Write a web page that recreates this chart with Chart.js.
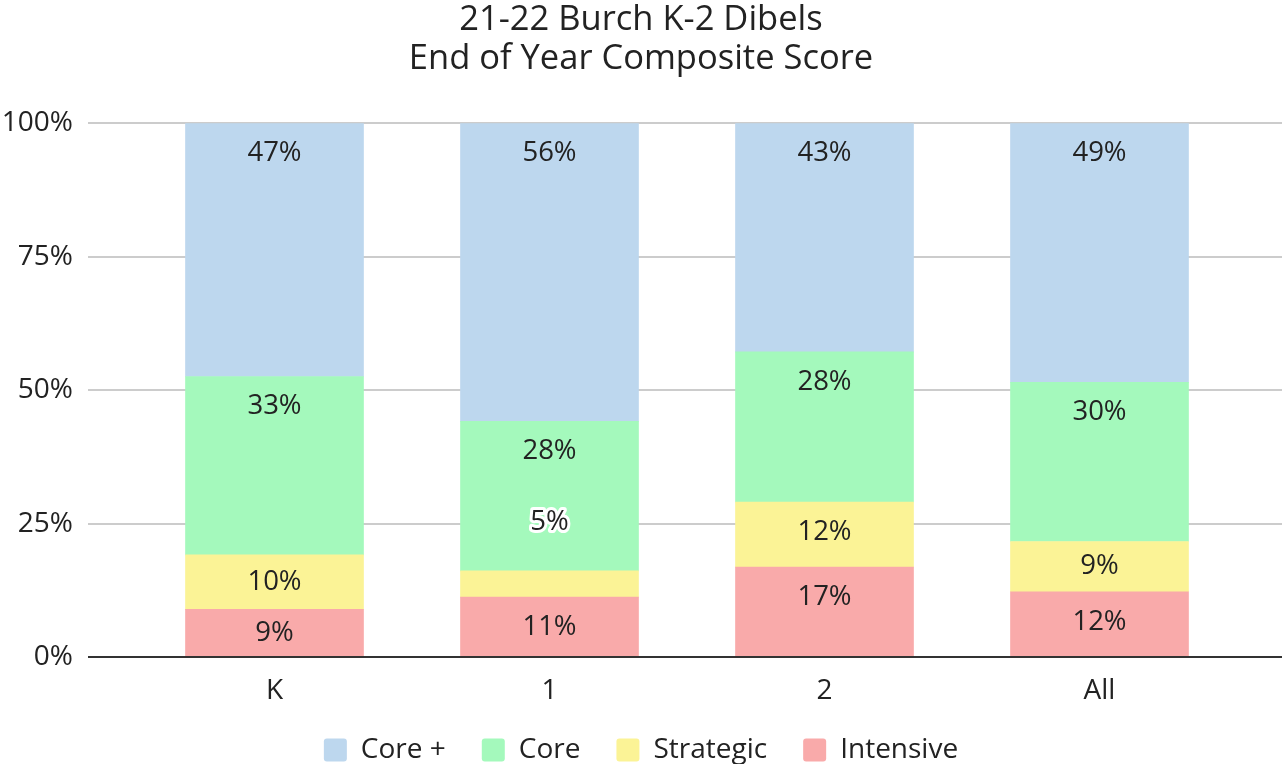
<!DOCTYPE html>
<html>
<head>
<meta charset="utf-8">
<script src="https://cdn.jsdelivr.net/npm/chart.js@4"></script>
<style>
  html, body { margin: 0; padding: 0; background: #fff; }
  #wrap { width: 1282px; height: 764px; }
</style>
</head>
<body>
<div id="wrap"><canvas id="chart"></canvas></div>
<script>
// grades on the x axis
var grades = ['K', '1', '2', 'All'];

// share of students in each band (percent)
var intensive = [9.0, 11.3, 16.9, 12.3];
var strategic = [10.2, 4.9, 12.2, 9.4];
var core = [33.4, 28.0, 28.1, 29.8];
var corePlus = [47.4, 55.8, 42.8, 48.5];

var yTicks = [0, 25, 50, 75, 100];

var FONT = "'Open Sans', 'Noto Sans', sans-serif";

// horizontal grid lines running across the whole width
var gridPlugin = {
    id: 'wideGrid',
    beforeDatasetsDraw: function(chart) {
        var ctx = chart.ctx, y = chart.scales.y;
        ctx.save();
        ctx.strokeStyle = '#cccccc';
        ctx.lineWidth = 2;
        yTicks.forEach(function(v) {
            if (v === 0) return;
            var py = Math.round(y.getPixelForValue(v));
            ctx.beginPath();
            ctx.moveTo(88, py);
            ctx.lineTo(chart.width, py);
            ctx.stroke();
        });
        ctx.restore();
    },
    afterDatasetsDraw: function(chart) {
        var ctx = chart.ctx, y = chart.scales.y;
        var py = Math.round(y.getPixelForValue(0));
        ctx.save();
        ctx.strokeStyle = '#333333';
        ctx.lineWidth = 2;
        ctx.beginPath();
        ctx.moveTo(88, py);
        ctx.lineTo(chart.width, py);
        ctx.stroke();
        ctx.restore();
    }
};

// legend rows sit higher than their box
var legendNudge = {
    id: 'legendNudge',
    afterLayout: function(chart) {
        if (chart.legend) chart.legend.top -= 17;
    }
};

// percentage labels inside the segments
var labelPlugin = {
    id: 'segLabels',
    afterDatasetsDraw: function(chart) {
        var ctx = chart.ctx;
        ctx.save();
        ctx.font = '27.5px ' + FONT;
        ctx.textAlign = 'center';
        ctx.textBaseline = 'middle';
        chart.data.datasets.forEach(function(ds, i) {
            var meta = chart.getDatasetMeta(i);
            meta.data.forEach(function(bar, j) {
                var top = bar.y, bottom = bar.base;
                var h = bottom - top;
                var txt = Math.round(ds.data[j]) + '%';
                var ty, halo = false;
                if (h >= 60) ty = top + 30;
                else if (h >= 40) ty = (top + bottom) / 2;
                else { ty = top - 49; halo = true; }
                if (halo) {
                    ctx.lineWidth = 6;
                    ctx.strokeStyle = '#ffffff';
                    ctx.lineJoin = 'round';
                    ctx.strokeText(txt, bar.x, ty);
                }
                ctx.fillStyle = '#222222';
                ctx.fillText(txt, bar.x, ty);
            });
        });
        ctx.restore();
    }
};

var ctx = document.getElementById('chart').getContext('2d');
var myChart = new Chart(ctx, {
    type: 'bar',
    data: {
        labels: grades,
        datasets: [{
            label: 'Intensive',
            data: intensive,
            backgroundColor: '#f9aaaa',
            yAxisID: 'y'
        }, {
            label: 'Strategic',
            data: strategic,
            backgroundColor: '#fbf396',
            yAxisID: 'y'
        }, {
            label: 'Core',
            data: core,
            backgroundColor: '#a4f9bc',
            yAxisID: 'y'
        }, {
            label: 'Core +',
            data: corePlus,
            backgroundColor: '#bdd7ee',
            yAxisID: 'y'
        }]
    },
    options: {
        responsive: true,
        maintainAspectRatio: false,
        animation: false,
        layout: { padding: { left: 0, right: 0, top: 0, bottom: -27 } },
        datasets: {
            bar: { barThickness: 178, borderWidth: 0 }
        },
        plugins: {
            title: {
                display: true,
                text: ['21-22 Burch K-2 Dibels', 'End of Year Composite Score'],
                color: '#222222',
                font: { family: FONT, size: 34.5, weight: 'normal', lineHeight: 1.15 },
                padding: { top: 0, bottom: 44 }
            },
            legend: {
                position: 'bottom',
                reverse: true,
                labels: {
                    color: '#222222',
                    font: { family: FONT, size: 28 },
                    boxWidth: 23,
                    boxHeight: 23,
                    useBorderRadius: true,
                    borderRadius: 3,
                    padding: 36
                }
            },
            tooltip: { enabled: false }
        },
        scales: {
            x: {
                stacked: true,
                grid: { display: false },
                border: { display: false },
                ticks: {
                    color: '#222222',
                    font: { family: FONT, size: 28 },
                    padding: 9
                }
            },
            y: {
                stacked: true,
                min: 0,
                max: 100,
                afterFit: function(scale) { scale.width = 137; },
                afterBuildTicks: function(scale) {
                    scale.ticks = yTicks.map(function(v) { return { value: v }; });
                },
                grid: { display: false, drawTicks: false },
                border: { display: false },
                ticks: {
                    color: '#222222',
                    font: { family: FONT, size: 28 },
                    padding: 64,
                    callback: function(v) { return v + '%'; }
                }
            },
            // empty margin on the right where the grid lines run on
            yr: {
                position: 'right',
                min: 0,
                max: 100,
                afterFit: function(scale) { scale.width = 45; },
                grid: { display: false, drawTicks: false },
                border: { display: false },
                ticks: { display: false }
            }
        }
    },
    plugins: [gridPlugin, labelPlugin, legendNudge]
});
</script>
</body>
</html>
